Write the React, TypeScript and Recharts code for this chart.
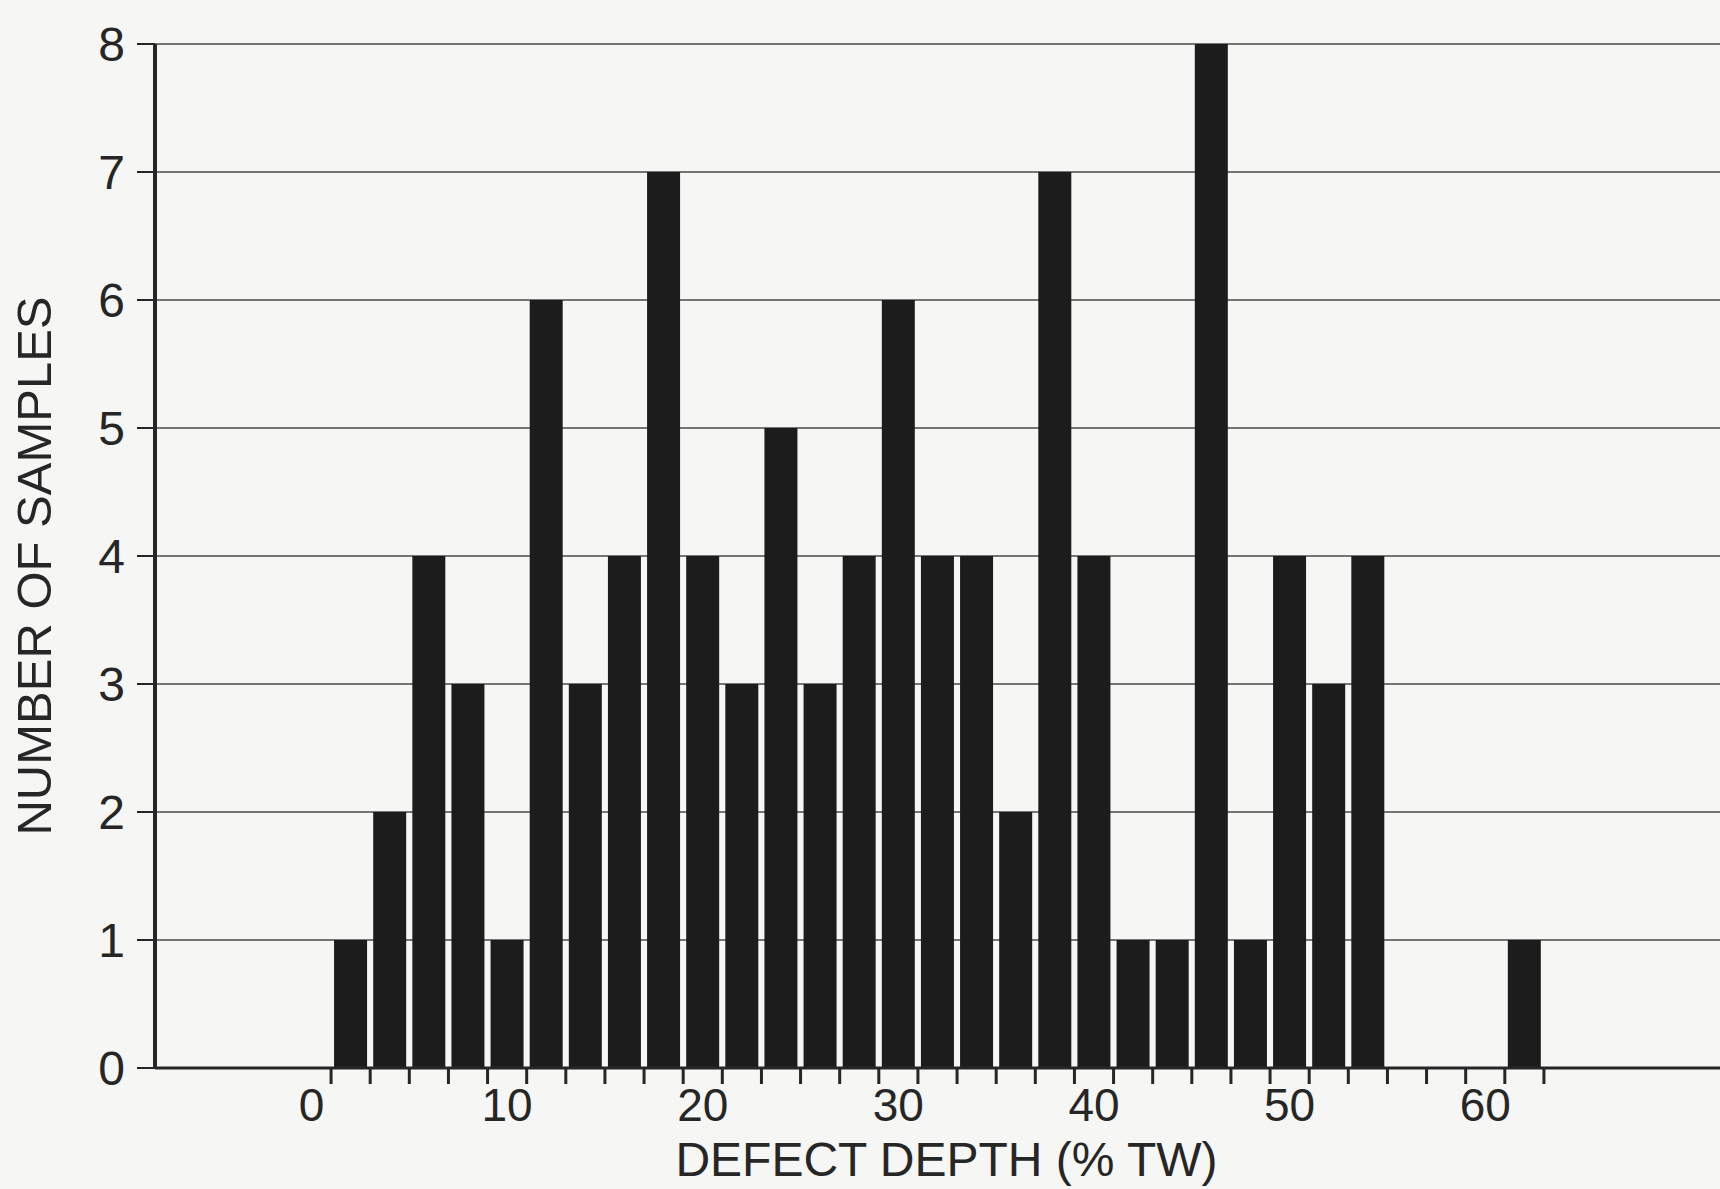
import React from 'react';
import { BarChart, Bar, XAxis, YAxis, CartesianGrid, Label } from 'recharts';

// bin centres (% TW), each bin is 2% wide
const depths = [2, 4, 6, 8, 10, 12, 14, 16, 18, 20, 22, 24, 26, 28, 30, 32, 34, 36, 38, 40, 42, 44, 46, 48, 50, 52, 54, 56, 58, 60, 62];
const counts = [1, 2, 4, 3, 1, 6, 3, 4, 7, 4, 3, 5, 3, 4, 6, 4, 4, 2, 7, 4, 1, 1, 8, 1, 4, 3, 4, 0, 0, 0, 1];

const xLabels = [0, 10, 20, 30, 40, 50, 60];
const xMarks = [1, 3, 5, 7, 9, 11, 13, 15, 17, 19, 21, 23, 25, 27, 29, 31, 33, 35, 37, 39, 41, 43, 45, 47, 49, 51, 53, 55, 57, 59, 61, 63];
const yTicks = [0, 1, 2, 3, 4, 5, 6, 7, 8];

const data = depths.map((d, i) => ({ depth: d, count: counts[i] }));

const FONT = '"Liberation Sans", Arial, sans-serif';
const INK = '#262626';

const XTick: React.FC<any> = ({ x, y, payload }) => {
  const v = payload.value;
  if (v % 2 !== 0) {
    return <line x1={x} x2={x} y1={y} y2={y + 16} stroke={INK} strokeWidth={3} />;
  }
  return (
    <text x={x} y={y + 53} textAnchor="middle" fontSize={46} fill={INK} fontFamily={FONT}>
      {v}
    </text>
  );
};

export default function App() {
  return (
    <div style={{ position: 'absolute', left: 0, top: 0, width: 1720, height: 1189, background: '#f6f6f4' }}>
      <BarChart width={1720} height={1189} data={data} margin={{ top: 44, right: 0, left: 0, bottom: 0 }}>
        <CartesianGrid vertical={false} stroke="#4a4a4a" strokeWidth={1.5} />
        <XAxis
          dataKey="depth"
          type="number"
          domain={[-8, 72]}
          ticks={[...xLabels, ...xMarks]}
          interval={0}
          tick={<XTick />}
          tickLine={false}
          tickSize={0}
          tickMargin={0}
          height={121}
          axisLine={{ stroke: INK, strokeWidth: 3 }}
        >
          <Label
            value="DEFECT DEPTH (% TW)"
            position="insideBottom"
            offset={13}
            dx={9}
            style={{ fontSize: 48, fill: INK, fontFamily: FONT }}
          />
        </XAxis>
        <YAxis
          type="number"
          domain={[0, 8]}
          ticks={yTicks}
          interval={0}
          width={155}
          tickSize={18}
          tickMargin={12}
          tick={{ fontSize: 48, fill: INK, fontFamily: FONT }}
          tickLine={{ stroke: INK, strokeWidth: 2 }}
          axisLine={{ stroke: INK, strokeWidth: 4 }}
        >
          <Label
            value="NUMBER OF SAMPLES"
            angle={-90}
            position="insideLeft"
            offset={34}
            dy={10}
            style={{ fontSize: 49, fill: INK, fontFamily: FONT, textAnchor: 'middle' }}
          />
        </YAxis>
        <Bar dataKey="count" fill="#1c1c1c" barSize={33} isAnimationActive={false} />
      </BarChart>
    </div>
  );
}
